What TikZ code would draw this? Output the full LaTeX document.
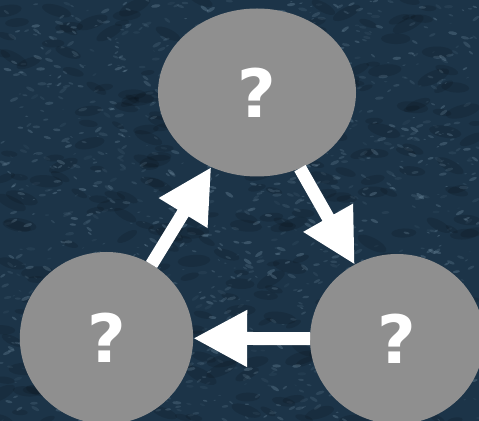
\documentclass[tikz,border=0pt]{standalone}
\usepackage{fontspec}
\usepackage{tikz}
\usetikzlibrary{arrows.meta,shapes.geometric}
\newfontfamily\qfont{DejaVu Sans}

\definecolor{seablue}{RGB}{28,52,72}
\definecolor{foam}{RGB}{150,180,200}
\definecolor{bubble}{RGB}{143,143,143}

\tikzset{
    bubblenode/.style={ellipse,fill=bubble,inner sep=0pt,outer sep=0pt,
        text=white,font=\qfont\bfseries\fontsize{50}{50}\selectfont},
    cyclearrow/.style={draw=white,line width=9.75pt,
        -{Triangle[length=40.5pt,width=40pt]}}
}

\begin{document}
\begin{tikzpicture}[x=0.75pt,y=0.75pt]
        \useasboundingbox (0,0) rectangle (479,421);
        \fill[seablue](0,0)rectangle(479,421);

        % grainy water surface
        \begin{scope}
            \clip(0,0)rectangle(479,421);
            \pgfmathsetseed{11}
            \foreach \i in {1,...,300}{
                \pgfmathsetmacro{\px}{479*rnd}
                \pgfmathsetmacro{\py}{421*rnd}
                \pgfmathsetmacro{\pr}{3+5*rnd}
                \pgfmathsetmacro{\pt}{-30+60*rnd}
                \fill[black,opacity=0.12,rotate around={\pt:(\px,\py)}](\px,\py)ellipse({2.2*\pr} and {0.8*\pr});
            }
            \foreach \i in {1,...,1400}{
                \pgfmathsetmacro{\px}{479*rnd}
                \pgfmathsetmacro{\py}{421*rnd}
                \pgfmathsetmacro{\pa}{0.05+0.2*rnd}
                \pgfmathsetmacro{\pr}{0.6+1.6*rnd}
                \pgfmathsetmacro{\pt}{-40+80*rnd}
                \fill[foam,opacity=\pa,rotate around={\pt:(\px,\py)}](\px,\py)ellipse({2.2*\pr} and {0.8*\pr});
            }
        \end{scope}

        \node[bubblenode,minimum width=148.5pt,minimum height=126pt](top)at(257,328.5){?};
        \node[bubblenode,minimum width=130pt,minimum height=129pt](left)at(106.5,83){?};
        \node[bubblenode,minimum width=130.5pt,minimum height=127.5pt](right)at(397,82){?};

        \draw[cyclearrow](left)--(top);
        \draw[cyclearrow](top)--(right);
        \draw[cyclearrow](right)--(left);
\end{tikzpicture}
\end{document}
